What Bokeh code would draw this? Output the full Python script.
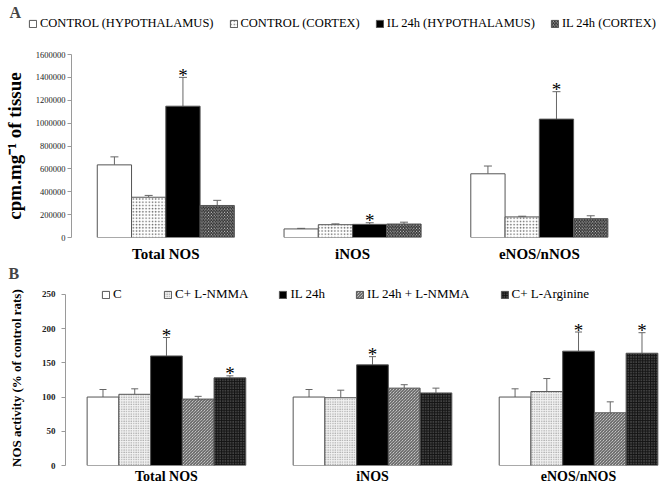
from bokeh.plotting import figure
from bokeh.models import (ColumnDataSource, Whisker, TeeHead, Legend, LegendItem, Label,
                          FixedTicker, BasicTickFormatter, Range1d)
from bokeh.layouts import column
from bokeh.embed import file_html
from bokeh.resources import INLINE
from bokeh.core.properties import value

FONT = "Liberation Serif"
W = 660
NAN = float("nan")

groups = ["Total NOS", "iNOS", "eNOS/nNOS"]

# ---------------- Panel A data ----------------
series_a = ["CONTROL (HYPOTHALAMUS)", "CONTROL (CORTEX)", "IL 24h (HYPOTHALAMUS)", "IL 24h (CORTEX)"]
ctrl_hyp = [635000, 75000, 557000]
ctrl_hyp_err = [70000, 5000, 68000]
ctrl_ctx = [352000, 112000, 180000]
ctrl_ctx_err = [16000, 7000, 6000]
il_hyp = [1148000, 115000, 1035000]
il_hyp_err = [252000, 14000, 240000]
il_ctx = [280000, 118000, 165000]
il_ctx_err = [45000, 16000, 25000]
sig_a = [[False, False, False], [False, False, False], [True, True, True], [False, False, False]]
y_ticks_a = [0, 200000, 400000, 600000, 800000, 1000000, 1200000, 1400000, 1600000]

# ---------------- Panel B data ----------------
series_b = ["C", "C+ L-NMMA", "IL 24h", "IL 24h + L-NMMA", "C+ L-Arginine"]
c_b = [100, 100, 100]
c_b_err = [11, 11, 12]
c_nmma = [104, 99, 108]
c_nmma_err = [8, 11, 19]
il_b = [160, 147, 167]
il_b_err = [27, 12, 28]
il_nmma = [97, 113, 77]
il_nmma_err = [4, 5, 16]
c_arg = [128, 106, 164]
c_arg_err = [3, 7, 30]
sig_b = [[False, False, False], [False, False, False], [True, True, True],
         [False, False, False], [True, False, True]]
y_ticks_b = [0, 50, 100, 150, 200, 250]

styles_a = [
    dict(fill_color="white"),
    dict(fill_color="white", hatch_pattern="dot", hatch_color="#666666", hatch_scale=3.2, hatch_weight=0.7),
    dict(fill_color="black"),
    dict(fill_color="#f4f4f4", hatch_pattern="left_diagonal_line", hatch_color="#222222", hatch_scale=3.2, hatch_weight=1.1),
]
styles_b = [
    dict(fill_color="white"),
    dict(fill_color="#f2f2f2", hatch_pattern="dot", hatch_color="#777777", hatch_scale=2.4, hatch_weight=0.7),
    dict(fill_color="black"),
    dict(fill_color="#f0f0f0", hatch_pattern="left_diagonal_line", hatch_color="#444444", hatch_scale=3.0, hatch_weight=1.0),
    dict(fill_color="#141414", hatch_pattern="dot", hatch_color="#808080", hatch_scale=2.6, hatch_weight=0.8),
]

LEG = dict(orientation="horizontal", glyph_width=9, glyph_height=9, label_standoff=3, label_height=12,
           label_text_font=FONT, label_text_color="black",
           padding=0, margin=0, border_line_color=None, background_fill_alpha=0)


def panel(p, names, vals, errs, sigs, styles, bar_w, head):
    n = len(names)
    renderers = []
    for k in range(n):
        off = (k - (n - 1) / 2) * bar_w
        xs = [i + off for i in range(len(groups))]
        tops = [v + e for v, e in zip(vals[k], errs[k])]
        src = ColumnDataSource(dict(x=xs, top=vals[k], up=tops))
        r = p.vbar(x="x", top="top", width=bar_w, bottom=0, source=src,
                   line_color="#555555", line_width=1, **styles[k])
        renderers.append(r)
        w = Whisker(base="x", lower="top", upper="up", source=src, dimension="height",
                    line_color="#666666", line_width=1,
                    upper_head=TeeHead(size=head, line_color="#666666", line_width=1), lower_head=None)
        p.add_layout(w)
        sx = [x for x, s in zip(xs, sigs[k]) if s]
        sy = [t for t, s in zip(tops, sigs[k]) if s]
        if sx:
            p.text(x=sx, y=sy, text=["*"] * len(sx), text_font=value(FONT),
                   text_font_size="19px", text_align="center", text_baseline="alphabetic",
                   y_offset=-2, text_color="black")
    return renderers


def style_axes(p, yticks, ylabel, tick_font_size, tick_bold, label_size, cat_size):
    p.xgrid.grid_line_color = None
    p.ygrid.grid_line_color = None
    p.outline_line_color = None
    p.xaxis.ticker = FixedTicker(ticks=list(range(len(groups))))
    p.xaxis.major_label_overrides = {i: g for i, g in enumerate(groups)}
    p.xaxis.axis_line_color = None
    p.xaxis.major_tick_line_color = None
    p.xaxis.minor_tick_line_color = None
    p.xaxis.major_tick_out = 0
    p.xaxis.major_tick_in = 0
    p.xaxis.major_label_text_font = FONT
    p.xaxis.major_label_text_font_style = "bold"
    p.xaxis.major_label_text_font_size = cat_size
    p.xaxis.major_label_text_color = "black"
    p.yaxis.ticker = FixedTicker(ticks=yticks)
    p.yaxis.bounds = (yticks[0], yticks[-1])
    p.yaxis.formatter = BasicTickFormatter(use_scientific=False)
    p.yaxis.axis_line_color = "#9a9a9a"
    p.yaxis.major_tick_line_color = "#9a9a9a"
    p.yaxis.minor_tick_line_color = None
    p.yaxis.major_tick_in = 0
    p.yaxis.major_tick_out = 4
    p.yaxis.major_label_text_font = FONT
    p.yaxis.major_label_text_font_size = tick_font_size
    p.yaxis.major_label_text_font_style = "bold" if tick_bold else "normal"
    p.yaxis.major_label_text_color = "#222222"
    p.yaxis.axis_label = ylabel
    p.yaxis.axis_label_text_font = FONT
    p.yaxis.axis_label_text_font_style = "bold"
    p.yaxis.axis_label_text_font_size = label_size
    p.yaxis.axis_label_text_color = "black"


def header(h):
    f = figure(width=W, height=h, x_range=Range1d(0, W), y_range=Range1d(0, h),
               output_backend="svg", toolbar_location=None, x_axis_type=None, y_axis_type=None,
               frame_align=False,
               min_border=0, min_border_left=0, min_border_right=0, min_border_top=0, min_border_bottom=0)
    f.outline_line_color = None
    f.xgrid.visible = False
    f.ygrid.visible = False
    return f


def proxy_renderers(f, styles):
    # legend swatch proxies (no visible data)
    return [f.vbar(x=[NAN], top=[NAN], width=1, line_color="#555555", line_width=1, **st) for st in styles]


# ---------------- Header A: panel letter + legend ----------------
HA = 40
ha = header(HA)
ha.add_layout(Label(x=9, y=HA - 12, text="A", text_font=FONT, text_font_style="bold",
                    text_font_size="16px", text_baseline="middle"))
da = proxy_renderers(ha, styles_a)
ha.add_layout(Legend(items=[LegendItem(label=s, renderers=[r]) for s, r in zip(series_a, da)],
                     location=(28, HA - 31), spacing=15, label_text_font_size="12.5px", **LEG), "center")

# ---------------- Panel A ----------------
pa = figure(width=W, height=224, x_range=Range1d(-0.505, 2.622), y_range=Range1d(0, 1600000),
            output_backend="svg", toolbar_location=None, frame_align=False,
            min_border_left=67, min_border_right=5, min_border_top=14, min_border_bottom=26)
panel(pa, series_a, [ctrl_hyp, ctrl_ctx, il_hyp, il_ctx],
      [ctrl_hyp_err, ctrl_ctx_err, il_hyp_err, il_ctx_err], sig_a, styles_a, 0.1835, 8)
style_axes(pa, y_ticks_a, "cpm.mg\u207b\u00b9 of tissue", "8.5px", False, "19px", "15px")
pa.yaxis.major_label_standoff = 2
pa.yaxis.axis_label_standoff = 8
pa.xaxis.major_label_standoff = 8

# ---------------- Header B: panel letter ----------------
HB = 21
hb = header(HB)
hb.add_layout(Label(x=8, y=HB - 9, text="B", text_font=FONT, text_font_style="bold",
                    text_font_size="16px", text_baseline="middle"))

# ---------------- Panel B ----------------
pb = figure(width=W, height=201, x_range=Range1d(-0.49, 2.393), y_range=Range1d(0, 260),
            output_backend="svg", toolbar_location=None, frame_align=False,
            min_border_left=65, min_border_right=1, min_border_top=2, min_border_bottom=20)
rb = panel(pb, series_b, [c_b, c_nmma, il_b, il_nmma, c_arg],
           [c_b_err, c_nmma_err, il_b_err, il_nmma_err, c_arg_err], sig_b, styles_b, 0.154, 7)
style_axes(pb, y_ticks_b, "NOS activity  (% of control rats)", "9px", True, "13px", "14px")
pb.yaxis.major_label_standoff = 6
pb.yaxis.axis_label_standoff = 15
pb.xaxis.major_label_standoff = 3
pb.add_layout(Legend(items=[LegendItem(label=s, renderers=[r]) for s, r in zip(series_b, rb)],
                     location=(36, 163), spacing=30, label_text_font_size="13px", **LEG), "center")

layout = column(ha, pa, hb, pb, spacing=0)
open("out.html", "w").write(file_html(layout, INLINE))
